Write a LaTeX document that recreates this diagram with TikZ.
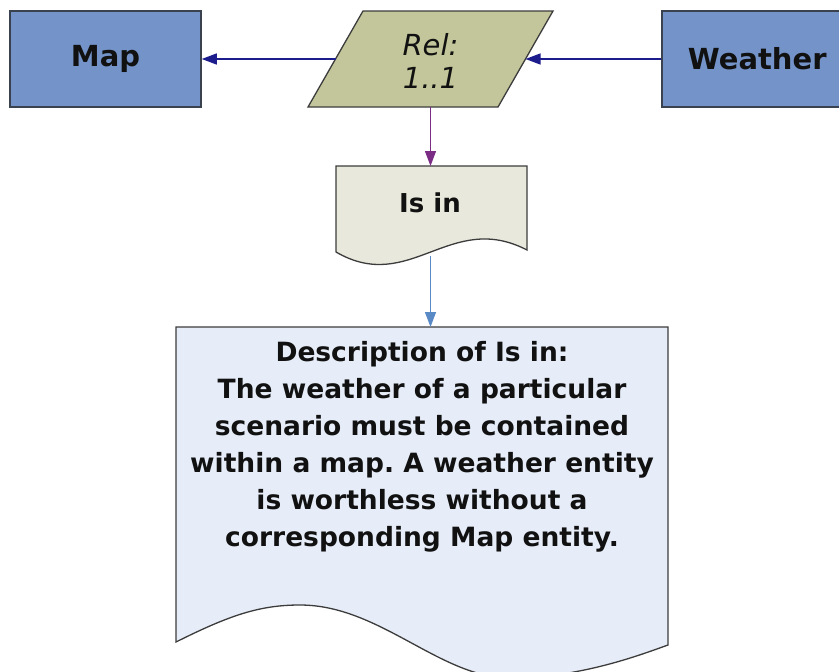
\documentclass[tikz,border=0pt]{standalone}
\usepackage{fontspec}
\setmainfont{DejaVu Sans}
\usetikzlibrary{arrows.meta}
\frenchspacing

\definecolor{entityfill}{HTML}{7393C9}
\definecolor{entityline}{HTML}{3A4250}
\definecolor{relfill}{HTML}{C3C69A}
\definecolor{isinfill}{HTML}{E8E8DC}
\definecolor{descfill}{HTML}{E6EDF8}
\definecolor{shapeline}{HTML}{3C3C3C}
\definecolor{navyarrow}{HTML}{1C1C8C}
\definecolor{purplearrow}{HTML}{7B2C84}
\definecolor{bluearrow}{HTML}{5A8AC6}
\definecolor{labeltext}{HTML}{111111}

\tikzset{
  entity/.style={draw=entityline, fill=entityfill, line width=1.5pt,
    minimum width=191pt, minimum height=96pt, inner sep=0pt,
    font=\fontsize{29}{33}\selectfont\bfseries, text=labeltext},
  outline/.style={draw=shapeline, line width=1.3pt, line join=miter},
  label/.style={inner sep=0pt, align=center, text=labeltext},
  conn/.style={line width=1.3pt, -{Triangle[length=15pt,width=11pt]}},
}

\begin{document}
\begin{tikzpicture}[x=1pt, y=-1pt]
  \useasboundingbox[fill=white] (0,0) rectangle (839,672);

  % entities
  \node[entity] (map) at (105.5,59) {Map};
  \node[entity, anchor=west] (weather) at (661,59) {Weather};

  % relationship parallelogram
  \draw[outline, fill=relfill] (308,107) -- (363,11) -- (553,11) -- (498,107) -- cycle;
  \node[label, font=\fontsize{29}{33}\selectfont\itshape] (rel) at (430.5,61) {Rel:\\1..1};
  \coordinate (relW) at (335.5,59);
  \coordinate (relE) at (525.5,59);
  \coordinate (relS) at (430.5,107);

  % "Is in" document shape
  \draw[outline, fill=isinfill] (336,166) -- (527,166) -- (527,250)
    .. controls (450,210) and (410,295) .. (336,252) -- cycle;
  \node[label, font=\fontsize{26}{30}\selectfont\bfseries] (isin) at (430,203) {Is in};
  \coordinate (isinN) at (430.5,166);
  \coordinate (isinS) at (430.5,256);

  % description document shape
  \draw[outline, fill=descfill] (176,327) -- (668,327) -- (668,645)
    .. controls (640,655) and (580,678) .. (510,678)
    .. controls (440,678) and (380,605) .. (300,605)
    .. controls (260,605) and (230,615) .. (176,642) -- cycle;
  \node[label, font=\fontsize{26.5}{37}\selectfont\bfseries] (desc) at (422,446.5)
    {Description of Is in:\\The weather of a particular\\scenario must be contained\\within a map. A weather entity\\is worthless without a\\corresponding Map entity.};
  \coordinate (descN) at (430.5,327);

  % connectors
  \draw[conn, navyarrow] (relW) -- (map.east);
  \draw[conn, navyarrow] (weather.west) -- (relE);
  \draw[conn, purplearrow] (relS) -- (isinN);
  \draw[conn, bluearrow] (isinS) -- (descN);
\end{tikzpicture}
\end{document}
